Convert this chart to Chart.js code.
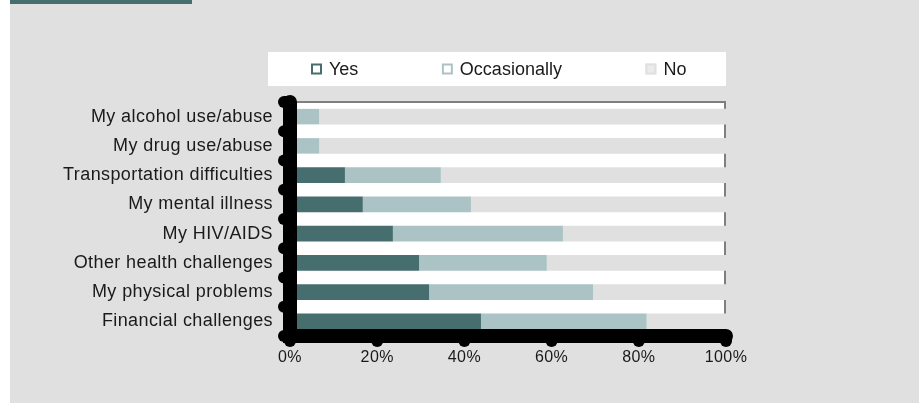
<!DOCTYPE html>
<html>
<head>
<meta charset="utf-8">
<script src="https://cdn.jsdelivr.net/npm/chart.js@4/dist/chart.umd.min.js"></script>
<style>
  html, body { margin: 0; padding: 0; background: #ffffff; }
  canvas { display: block; }
</style>
</head>
<body>
<canvas id="c" width="919" height="403"></canvas>
<script>
// Reported barriers, share of respondents (%)
const categories = [
  'My alcohol use/abuse',
  'My drug use/abuse',
  'Transportation difficulties',
  'My mental illness',
  'My HIV/AIDS',
  'Other health challenges',
  'My physical problems',
  'Financial challenges'
];
const yesValues          = [0,    0,    12.6, 16.7, 23.6, 29.6, 31.9, 43.8];
const occasionallyValues = [6.7,  6.7,  22.0, 24.8, 39.0, 29.3, 37.6, 38.0];
const noValues           = [93.3, 93.3, 65.4, 58.5, 37.4, 41.1, 30.5, 18.2];
const percentTicks = [0, 20, 40, 60, 80, 100];

const FONT = '"Liberation Sans", Arial, sans-serif';
const TEXT = '#1a1a1a';
const BG = '#e0e0e0';

// Page backdrop, header strip and the boxed legend row
const backdrop = {
  id: 'backdrop',
  beforeDraw(chart) {
    const ctx = chart.ctx;
    const a = chart.chartArea;
    // slightly open tracking for the axis text
    ctx.letterSpacing = '0.4px';
    ctx.save();
    ctx.fillStyle = '#ffffff';
    ctx.fillRect(0, 0, chart.width, chart.height);
    ctx.fillStyle = BG;
    ctx.fillRect(10, 0, chart.width - 10, chart.height);
    ctx.fillStyle = '#466e6e';
    ctx.fillRect(10, 0, 182, 4);

    // legend box
    ctx.letterSpacing = '0px';
    const boxL = a.left - 22, boxR = a.right, boxT = 52, boxB = 86;
    ctx.fillStyle = '#ffffff';
    ctx.fillRect(boxL, boxT, boxR - boxL, boxB - boxT);
    ctx.font = '18px ' + FONT;
    ctx.textBaseline = 'middle';
    ctx.textAlign = 'left';
    const midY = (boxT + boxB) / 2;
    let x = boxL + 43;
    chart.data.datasets.forEach((ds, i) => {
      const last = i === chart.data.datasets.length - 1;
      ctx.fillStyle = last ? '#ebebeb' : '#ffffff';
      ctx.fillRect(x, midY - 5.5, 11, 11);
      ctx.strokeStyle = ds.backgroundColor;
      ctx.lineWidth = 2;
      ctx.strokeRect(x + 1, midY - 4.5, 9, 9);
      ctx.fillStyle = TEXT;
      ctx.fillText(ds.label, x + 18, midY + 1);
      x += 18 + ctx.measureText(ds.label).width + 83.5;
    });
    ctx.restore();
  }
};

// White plotting panel with a thin grey frame on top and right
const panel = {
  id: 'panel',
  beforeDatasetsDraw(chart) {
    const ctx = chart.ctx;
    const a = chart.chartArea;
    ctx.save();
    ctx.fillStyle = '#ffffff';
    ctx.fillRect(a.left, a.top, a.right - a.left, a.bottom - a.top);
    ctx.strokeStyle = '#7f7f7f';
    ctx.lineWidth = 2;
    ctx.beginPath();
    ctx.moveTo(a.left, a.top);
    ctx.lineTo(a.right - 1, a.top);
    ctx.lineTo(a.right - 1, a.bottom);
    ctx.stroke();
    ctx.restore();
  }
};

// Heavy black axes with rounded ends and rounded tick stubs
const heavyAxes = {
  id: 'heavyAxes',
  afterDatasetsDraw(chart) {
    const ctx = chart.ctx;
    const xs = chart.scales.x, ys = chart.scales.y;
    const x0 = xs.getPixelForValue(0);
    const x1 = xs.getPixelForValue(100);
    const top = ys.top, bottom = ys.bottom;
    const step = (bottom - top) / categories.length;
    ctx.save();
    ctx.strokeStyle = '#000000';
    ctx.lineCap = 'round';
    // tick stubs on the category axis, at band boundaries
    ctx.lineWidth = 12;
    for (let i = 0; i <= categories.length; i++) {
      const y = top + i * step;
      ctx.beginPath();
      ctx.moveTo(x0 - 6, y);
      ctx.lineTo(x0, y);
      ctx.stroke();
    }
    // tick stubs on the value axis
    percentTicks.forEach((v) => {
      const x = xs.getPixelForValue(v);
      ctx.beginPath();
      ctx.moveTo(x, bottom);
      ctx.lineTo(x, bottom + 5);
      ctx.stroke();
    });
    // axis lines
    ctx.lineWidth = 14;
    ctx.beginPath();
    ctx.moveTo(x0, top);
    ctx.lineTo(x0, bottom);
    ctx.lineTo(x1, bottom);
    ctx.stroke();
    ctx.restore();
  }
};

new Chart(document.getElementById('c'), {
  type: 'bar',
  data: {
    labels: categories,
    datasets: [
      { label: 'Yes', data: yesValues, backgroundColor: '#466e6e' },
      { label: 'Occasionally', data: occasionallyValues, backgroundColor: '#abc3c4' },
      { label: 'No', data: noValues, backgroundColor: '#e0e0e0' }
    ]
  },
  options: {
    indexAxis: 'y',
    responsive: false,
    animation: false,
    devicePixelRatio: 1,
    layout: { padding: { top: 102, right: 193, bottom: 0, left: 0 } },
    datasets: {
      bar: { categoryPercentage: 1, barPercentage: 0.53, borderWidth: 0 }
    },
    plugins: {
      legend: { display: false },
      tooltip: { enabled: false },
      title: { display: false }
    },
    scales: {
      x: {
        stacked: true,
        min: 0,
        max: 100,
        afterBuildTicks(scale) {
          scale.ticks = percentTicks.map((v) => ({ value: v }));
        },
        afterFit(scale) { scale.height = 67; },
        grid: { display: false, drawTicks: false },
        border: { display: false },
        ticks: {
          padding: 12,
          color: TEXT,
          font: { family: FONT, size: 16 },
          maxRotation: 0,
          callback: (v) => v + '%'
        }
      },
      y: {
        stacked: true,
        afterFit(scale) { scale.width = 290; },
        grid: { display: false, drawTicks: false },
        border: { display: false },
        ticks: {
          padding: 17,
          color: TEXT,
          font: { family: FONT, size: 18 }
        }
      }
    }
  },
  plugins: [backdrop, panel, heavyAxes]
});
</script>
</body>
</html>
